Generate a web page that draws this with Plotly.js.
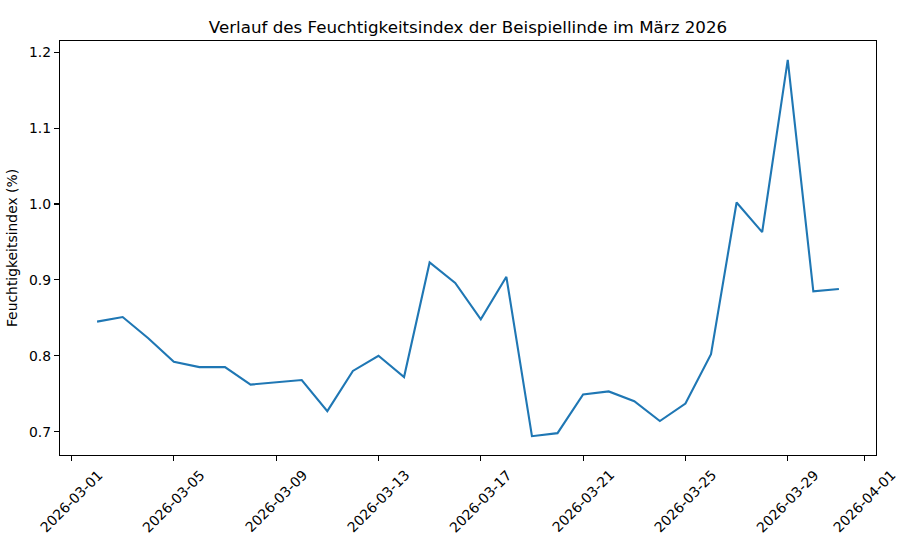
<!DOCTYPE html>
<html>
<head>
<meta charset="utf-8">
<script src="https://cdn.plot.ly/plotly-3.0.1.min.js"></script>
<style>html,body{margin:0;padding:0;background:#fff;}#chart{width:909px;height:556px;}</style>
</head>
<body>
<div id="chart"></div>
<script>
const dates = ["2026-03-02","2026-03-03","2026-03-04","2026-03-05","2026-03-06","2026-03-07","2026-03-08","2026-03-09","2026-03-10","2026-03-11","2026-03-12","2026-03-13","2026-03-14","2026-03-15","2026-03-16","2026-03-17","2026-03-18","2026-03-19","2026-03-20","2026-03-21","2026-03-22","2026-03-23","2026-03-24","2026-03-25","2026-03-26","2026-03-27","2026-03-28","2026-03-29","2026-03-30","2026-03-31"];
const values = [0.845,0.851,0.823,0.792,0.785,0.785,0.762,0.765,0.768,0.727,0.780,0.800,0.772,0.923,0.896,0.848,0.904,0.694,0.698,0.749,0.753,0.740,0.714,0.737,0.802,1.002,0.963,1.190,0.885,0.888];
const xTickVals = ["2026-03-01","2026-03-05","2026-03-09","2026-03-13","2026-03-17","2026-03-21","2026-03-25","2026-03-29","2026-04-01"];
const yTickVals = [0.7,0.8,0.9,1.0,1.1,1.2];
const titleText = "Verlauf des Feuchtigkeitsindex der Beispiellinde im März 2026";
const yTitle = "Feuchtigkeitsindex (%)";

const FONT = "DejaVu Sans, sans-serif";

// data-driven axis ranges with 5% margins (matplotlib style)
const t0 = new Date(dates[0] + "T00:00:00Z").getTime();
const t1 = new Date(dates[dates.length-1] + "T00:00:00Z").getTime();
const xm = (t1 - t0) * 0.05;
const fmt = t => new Date(t).toISOString().replace("T"," ").replace("Z","");
const vmin = Math.min(...values), vmax = Math.max(...values);
const ym = (vmax - vmin) * 0.05;

const annotations = xTickVals.map(d => ({
  x: d, xref: "x", y: 0, yref: "paper",
  text: d, showarrow: false, textangle: -45,
  xanchor: "center", yanchor: "top", yshift: -9,
  font: {family: FONT, size: 13.9, color: "#000"}
}));

const trace = {
  x: dates, y: values, type: "scatter", mode: "lines",
  line: {color: "#1f77b4", width: 2.1},
  hoverinfo: "x+y"
};

const layout = {
  width: 909, height: 556,
  margin: {l: 60, r: 33, t: 41, b: 101},
  paper_bgcolor: "#fff", plot_bgcolor: "#fff",
  font: {family: FONT, size: 13.9, color: "#000"},
  showlegend: false,
  title: {
    text: titleText,
    font: {family: FONT, size: 16.7, color: "#000"},
    x: 0.5, xref: "paper", y: (556 - 27) / 556, yref: "container",
    xanchor: "center", yanchor: "middle"
  },
  xaxis: {
    type: "date",
    range: [fmt(t0 - xm), fmt(t1 + xm)],
    tickvals: xTickVals,
    showticklabels: false,
    ticks: "outside", ticklen: 5, tickwidth: 1.1, tickcolor: "#000",
    showgrid: false, zeroline: false,
    showline: true, linecolor: "#000", linewidth: 1.1, mirror: true
  },
  yaxis: {
    range: [vmin - ym, vmax + ym],
    tickvals: yTickVals,
    tickformat: ".1f",
    ticks: "outside", ticklen: 5, tickwidth: 1.1, tickcolor: "#000",
    tickfont: {family: FONT, size: 13.9, color: "#000"},
    showgrid: false, zeroline: false,
    showline: true, linecolor: "#000", linewidth: 1.1, mirror: true,
    title: {text: yTitle, font: {family: FONT, size: 13.9, color: "#000"}, standoff: 8}
  },
  annotations: annotations
};

Plotly.newPlot("chart", [trace], layout, {staticPlot: true, displayModeBar: false});
</script>
</body>
</html>
